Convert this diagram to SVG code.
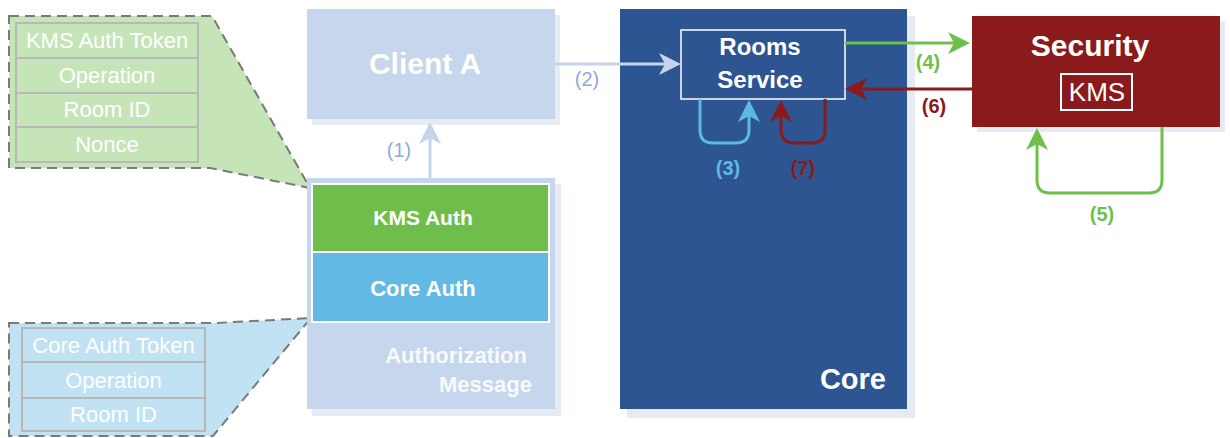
<svg xmlns="http://www.w3.org/2000/svg" width="1230" height="438" viewBox="0 0 1230 438">
<style>
.shadow{fill:#e6eaf2}
.b{font-family:"Liberation Sans",Arial,sans-serif;font-weight:bold;fill:#ffffff}
.r{font-family:"Liberation Sans",Arial,sans-serif;fill:#ffffff}
.cell{fill:none;stroke:#b8b8b8;stroke-width:2}
.callout{stroke:#7a7a7a;stroke-width:2;stroke-dasharray:10,6}
.conn{fill:none;stroke-width:3}
.lbl{font-family:"Liberation Sans",Arial,sans-serif;font-size:20px;text-anchor:middle}
</style>
<defs>
<marker id="mLB" markerUnits="userSpaceOnUse" markerWidth="22" markerHeight="22" refX="8" refY="11" orient="auto"><path d="M0,0 L22,11 L0,22 L6,11 Z" fill="#c3d5ec"/></marker>
<marker id="mBL" markerUnits="userSpaceOnUse" markerWidth="22" markerHeight="22" refX="8" refY="11" orient="auto"><path d="M0,0 L22,11 L0,22 L6,11 Z" fill="#5eb8e4"/></marker>
<marker id="mGR" markerUnits="userSpaceOnUse" markerWidth="22" markerHeight="22" refX="8" refY="11" orient="auto"><path d="M0,0 L22,11 L0,22 L6,11 Z" fill="#6fbf4a"/></marker>
<marker id="mRD" markerUnits="userSpaceOnUse" markerWidth="22" markerHeight="22" refX="8" refY="11" orient="auto"><path d="M0,0 L22,11 L0,22 L6,11 Z" fill="#8b1a1b"/></marker>
</defs>

<g id="kms-callout">
<polygon class="callout" points="9,16 212,16 310,188 210,168 9,168" fill="#c5e4b7"/>
<rect class="cell" x="16" y="23" width="182" height="139"/>
<line class="cell" x1="16" y1="58" x2="198" y2="58"/>
<line class="cell" x1="16" y1="93" x2="198" y2="93"/>
<line class="cell" x1="16" y1="127" x2="198" y2="127"/>
<text class="r" x="107" y="48" font-size="22" text-anchor="middle">KMS Auth Token</text>
<text class="r" x="107" y="83" font-size="22" text-anchor="middle">Operation</text>
<text class="r" x="107" y="117" font-size="22" text-anchor="middle">Room ID</text>
<text class="r" x="107" y="152" font-size="22" text-anchor="middle">Nonce</text>
</g>

<g id="core-callout">
<polygon class="callout" points="9,323 215,323 311,318 213,436 9,436" fill="#c1e2f2"/>
<rect class="cell" x="22" y="328" width="183" height="103"/>
<line class="cell" x1="22" y1="362" x2="205" y2="362"/>
<line class="cell" x1="22" y1="398" x2="205" y2="398"/>
<text class="r" x="113.5" y="353" font-size="22" text-anchor="middle">Core Auth Token</text>
<text class="r" x="113.5" y="388" font-size="22" text-anchor="middle">Operation</text>
<text class="r" x="113.5" y="422" font-size="22" text-anchor="middle">Room ID</text>
</g>

<g id="client-a">
<rect class="shadow" x="312" y="15" width="248" height="110"/>
<rect x="307" y="9" width="248" height="110" fill="#c5d6ed"/>
<text class="b" x="425" y="74" font-size="30" text-anchor="middle">Client A</text>
</g>

<g id="auth-message">
<rect class="shadow" x="312" y="184" width="249" height="232"/>
<rect x="307" y="178" width="248" height="231" fill="#c5d6ed"/>
<rect x="312" y="184" width="237" height="68" fill="#6fbe4b" stroke="#ffffff" stroke-width="2"/>
<rect x="312" y="252" width="237" height="70" fill="#62b9e3" stroke="#ffffff" stroke-width="2"/>
<text class="b" x="423" y="225" font-size="21" text-anchor="middle">KMS Auth</text>
<text class="b" x="423" y="296" font-size="22" text-anchor="middle">Core Auth</text>
<text class="b" x="527" y="363" font-size="22" text-anchor="end" fill-opacity="0.9">Authorization</text>
<text class="b" x="532" y="392" font-size="22" text-anchor="end" fill-opacity="0.9">Message</text>
</g>

<g id="core">
<rect class="shadow" x="627" y="16" width="288" height="402"/>
<rect x="620" y="9" width="287" height="400" fill="#2c5591"/>
<text class="b" x="886" y="389" font-size="29" text-anchor="end">Core</text>
</g>

<g id="rooms-service">
<rect x="681" y="30" width="164" height="69" fill="#2c5591" stroke="#ffffff" stroke-width="1.5"/>
<text class="b" x="760" y="55" font-size="24" text-anchor="middle">Rooms</text>
<text class="b" x="760" y="88" font-size="24" text-anchor="middle">Service</text>
</g>

<g id="security">
<rect class="shadow" x="977" y="21" width="248" height="111"/>
<rect x="972" y="16" width="248" height="111" fill="#8a1a1b"/>
<text class="b" x="1090" y="56" font-size="30" text-anchor="middle">Security</text>
<rect x="1061" y="74" width="71" height="36" fill="none" stroke="#ffffff" stroke-width="2"/>
<text class="r" x="1097" y="101" font-size="26" text-anchor="middle">KMS</text>
</g>

<g id="connectors">
<line class="conn" x1="430" y1="178" x2="430" y2="136" stroke="#c3d5ec" marker-end="url(#mLB)"/>
<line class="conn" x1="555" y1="64" x2="667" y2="64" stroke="#c3d5ec" marker-end="url(#mLB)"/>
<path class="conn" d="M700,99 V130 Q700,143 713,143 H736 Q749,143 749,130 V114" stroke="#5eb8e4" marker-end="url(#mBL)"/>
<path class="conn" d="M825,99 V130 Q825,143 812,143 H794 Q781,143 781,130 V114" stroke="#8b1a1b" marker-end="url(#mRD)"/>
<line class="conn" x1="845" y1="43" x2="956" y2="43" stroke="#6fbf4a" marker-end="url(#mGR)"/>
<line class="conn" x1="972" y1="89" x2="859" y2="89" stroke="#8b1a1b" marker-end="url(#mRD)"/>
<path class="conn" d="M1162,127 V180 Q1162,193 1149,193 H1050 Q1037,193 1037,180 V142" stroke="#6fbf4a" marker-end="url(#mGR)"/>
<text class="lbl" x="399" y="157" fill="#8fabd8">(1)</text>
<text class="lbl" x="587" y="86" fill="#8fabd8">(2)</text>
<text class="lbl" x="728" y="175" fill="#5eb8e4" font-weight="bold">(3)</text>
<text class="lbl" x="928" y="69" fill="#6fbf4a" font-weight="bold">(4)</text>
<text class="lbl" x="1102" y="221" fill="#6fbf4a" font-weight="bold">(5)</text>
<text class="lbl" x="934" y="113" fill="#8b1a1b" font-weight="bold">(6)</text>
<text class="lbl" x="803" y="175" fill="#8b1a1b" font-weight="bold">(7)</text>
</g>
</svg>
